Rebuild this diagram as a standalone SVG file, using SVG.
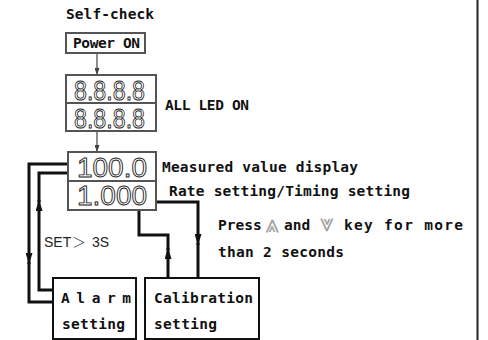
<svg xmlns="http://www.w3.org/2000/svg" width="488" height="340" viewBox="0 0 488 340">
<style>
.t{font-family:"DejaVu Sans Mono","Liberation Mono",monospace;font-weight:bold;font-size:14.5px;fill:#111}
.g{fill:#fff;stroke:#555;stroke-width:2}
.b{fill:#fff;stroke:#111;stroke-width:2}
.seg{font-family:"Liberation Sans","DejaVu Sans",sans-serif;font-size:27px;fill:#fff;stroke:#222;stroke-width:0.9}
.w{fill:none;stroke:#111;stroke-width:3}
.thin{fill:none;stroke:#444;stroke-width:1.2}
.sym{font-family:"DejaVu Sans","Noto Sans CJK SC",sans-serif;font-weight:normal;font-size:25px;fill:#a0a0a0}
</style>
<defs>
<marker id="ab" viewBox="0 0 10 10" refX="10" refY="5" markerWidth="11" markerHeight="7" preserveAspectRatio="none" orient="auto" markerUnits="userSpaceOnUse"><path d="M0,0 L10,5 L0,10 z" fill="#111"/></marker>
<marker id="ag" viewBox="0 0 10 10" refX="10" refY="5" markerWidth="7" markerHeight="5" preserveAspectRatio="none" orient="auto" markerUnits="userSpaceOnUse"><path d="M0,0 L10,5 L0,10 z" fill="#444"/></marker>
</defs>
<rect width="488" height="340" fill="#fff"/>
<line x1="477.5" y1="0" x2="477.5" y2="340" stroke="#222" stroke-width="2"/>
<text class="t" x="66" y="19" textLength="88">Self-check</text>
<g id="connectors">
<path class="thin" d="M97,53 V75" marker-end="url(#ag)"/>
<path class="thin" d="M97,131 V152" marker-end="url(#ag)"/>
<path class="w" d="M68,164 H29 V264" marker-end="url(#ab)"/>
<path class="w" d="M29,262 V302 H53"/>
<path class="w" d="M53,290 H39 V200" marker-end="url(#ab)"/>
<path class="w" d="M39,202 V173 H68"/>
<path class="w" d="M156,202 H198 V245" marker-end="url(#ab)"/>
<path class="w" d="M198,243 V278"/>
<path class="w" d="M168,278 V248" marker-end="url(#ab)"/>
<path class="w" d="M168,250 V235 H139 V210"/>
</g>
<g id="power">
<rect class="g" x="66" y="33" width="79" height="20"/>
<text class="t" x="73" y="48" textLength="67">Power ON</text>
</g>
<g id="led">
<rect class="g" x="66" y="75" width="90" height="56"/>
<line x1="66" y1="103" x2="156" y2="103" stroke="#555" stroke-width="2"/>
<text class="seg" x="74" y="100" textLength="71" lengthAdjust="spacingAndGlyphs">8.8.8.8</text>
<text class="seg" x="74" y="128" textLength="71" lengthAdjust="spacingAndGlyphs">8.8.8.8</text>
<text class="t" x="165" y="110" textLength="84">ALL LED ON</text>
</g>
<g id="display">
<rect class="g" x="68" y="152" width="88" height="58"/>
<line x1="68" y1="181" x2="156" y2="181" stroke="#555" stroke-width="2"/>
<text class="seg" x="77" y="177" textLength="70" lengthAdjust="spacingAndGlyphs">100.0</text>
<text class="seg" x="77" y="205" textLength="70" lengthAdjust="spacingAndGlyphs">1.000</text>
<text class="t" x="162" y="172" textLength="196">Measured value display</text>
<text class="t" x="169" y="196" textLength="241">Rate setting/Timing setting</text>
</g>
<text y="247" font-family="'Liberation Sans','Noto Sans CJK SC',sans-serif" font-size="14" fill="#222"><tspan x="44">SET</tspan><tspan x="72" font-family="'Noto Sans CJK SC',sans-serif" font-weight="300">＞</tspan><tspan x="92">3S</tspan></text>
<text class="t" y="230"><tspan x="218">Press</tspan><tspan class="sym" x="265" y="232">⩓</tspan><tspan x="284" y="230">and</tspan><tspan class="sym" x="320" y="232">⩔</tspan><tspan x="344" y="230" textLength="119">key for more</tspan></text>
<text class="t" x="218" y="257" textLength="126">than 2 seconds</text>
<g id="alarm">
<rect class="b" x="53" y="278" width="83" height="61"/>
<text class="t" x="61" y="303" textLength="70">A l a r m</text>
<text class="t" x="62" y="329" textLength="63">setting</text>
</g>
<g id="calibration">
<rect class="b" x="145" y="278" width="114" height="61"/>
<text class="t" x="154" y="303" textLength="99">Calibration</text>
<text class="t" x="154" y="329" textLength="63">setting</text>
</g>
</svg>
